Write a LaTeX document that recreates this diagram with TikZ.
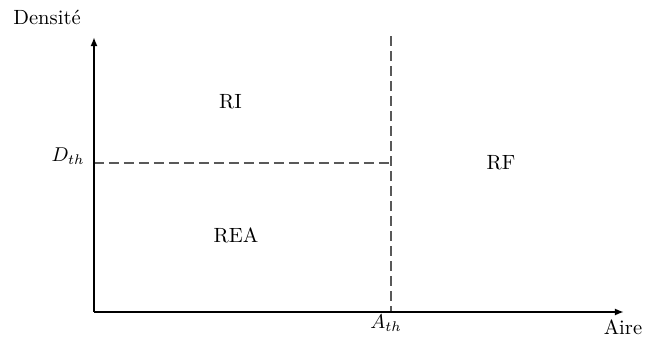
\documentclass[tikz,border=0pt]{standalone}
\usetikzlibrary{arrows.meta}
\begin{document}
\begin{tikzpicture}[x=0.5pt,y=-0.5pt,
  axis/.style={line width=1pt,-{Latex[length=4.5pt,width=3.5pt]}},
  thr/.style={line width=0.9pt,draw=black!65,dash pattern=on 5pt off 2.5pt},
  lbl/.style={inner sep=0pt,font=\fontsize{10.3}{12}\selectfont}]
\useasboundingbox (0,0) rectangle (645,338);
\coordinate (O) at (94,312);
\coordinate (ytop) at (94,37);
\coordinate (xend) at (624,312);
\coordinate (vtop) at (391,36);
\coordinate (vbot) at (391,312);
\coordinate (hl) at (94,163);
\coordinate (hr) at (391,163);
\draw[thr] (vtop) -- (vbot);
\draw[thr] (hl) -- (hr);
\draw[axis] (O) -- (ytop);
\draw[axis] (O) -- (xend);
\node[lbl] (dens) at (47,17) {Densité};
\node[lbl] (dth) at (68,156) {$D_{th}$};
\node[lbl] (ri) at (230.5,102) {RI};
\node[lbl] (rf) at (501,163) {RF};
\node[lbl] (rea) at (236,235) {REA};
\node[lbl] (ath) at (386,323) {$A_{th}$};
\node[lbl] (aire) at (623,327) {Aire};
\end{tikzpicture}
\end{document}
